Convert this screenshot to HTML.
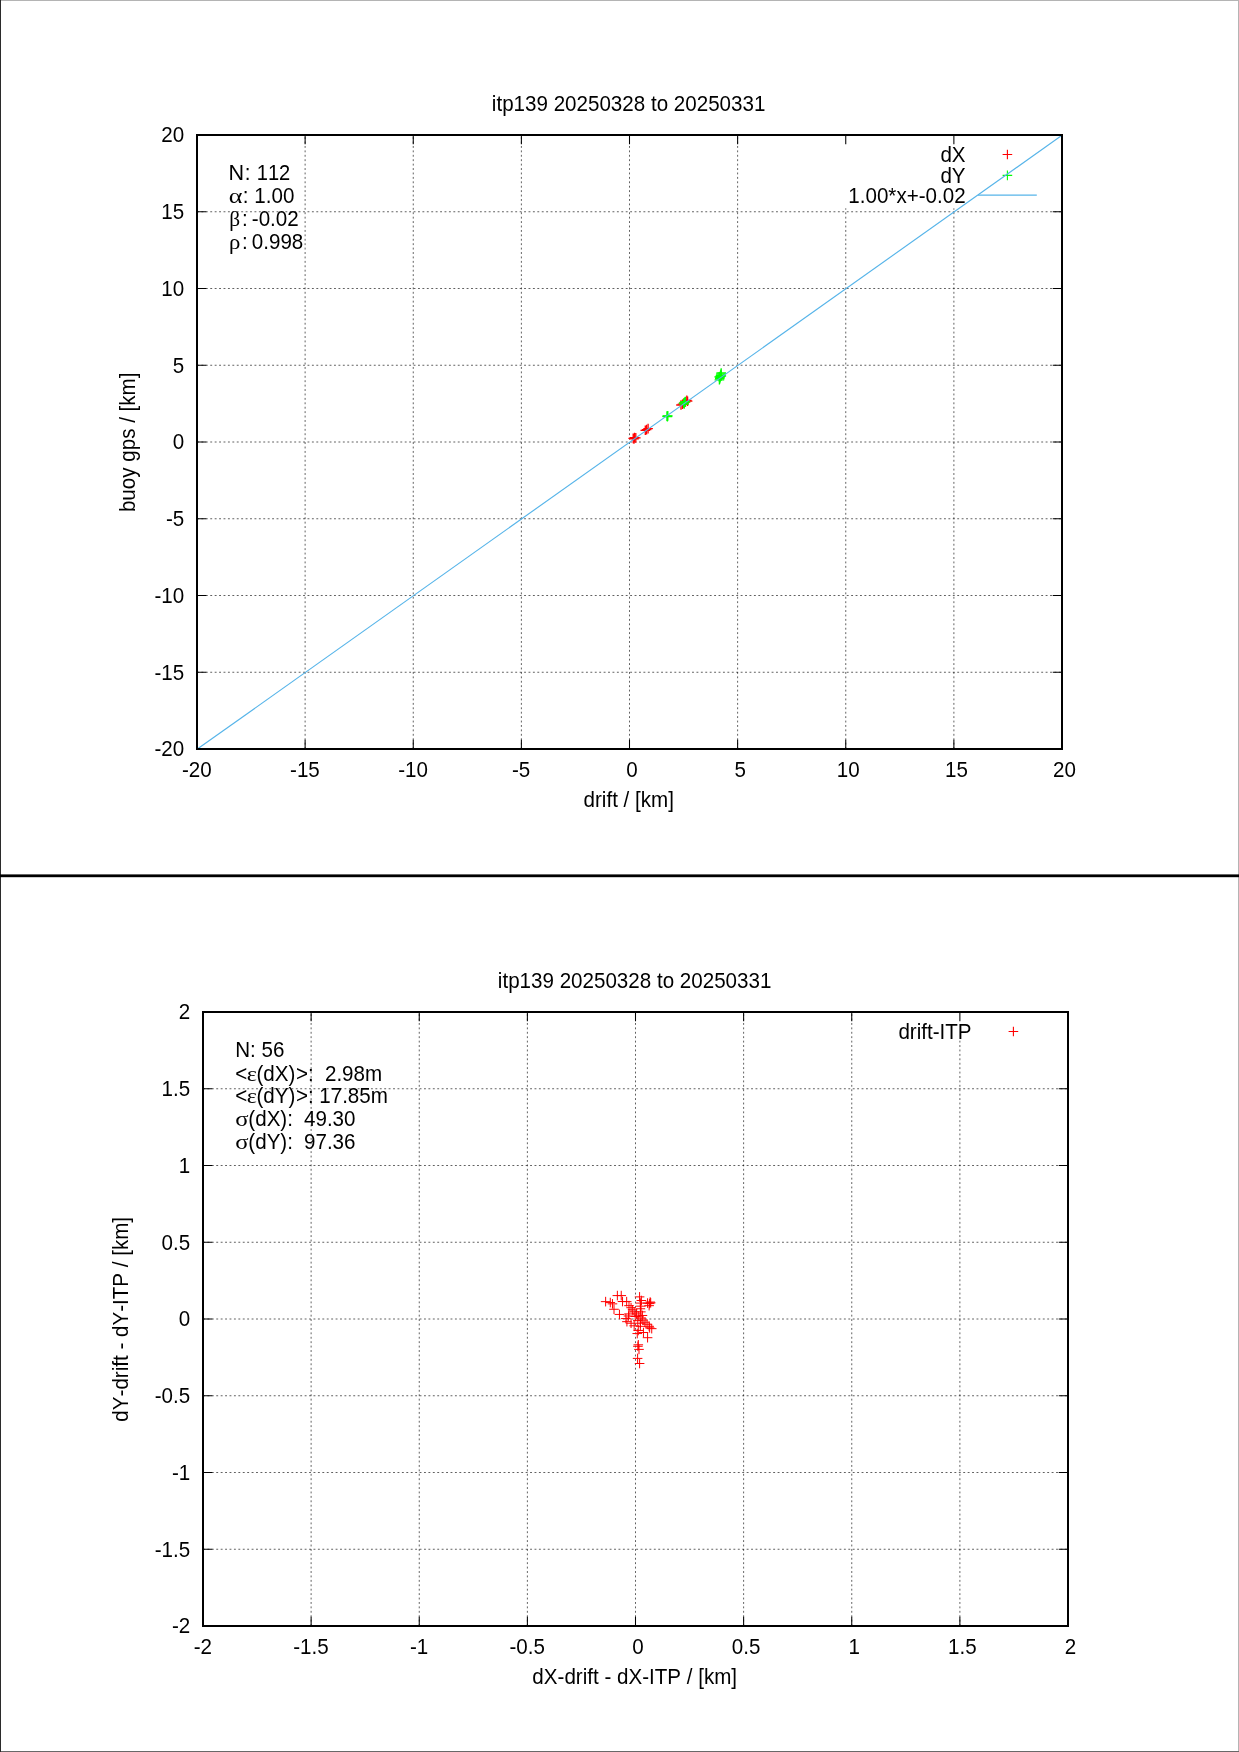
<!DOCTYPE html>
<html><head><meta charset="utf-8"><title>itp139 drift</title>
<style>
html,body{margin:0;padding:0;background:#fff;}
body{width:1239px;height:1752px;overflow:hidden;position:relative;}
svg{position:absolute;left:0;top:0;display:block;will-change:transform;}
text{font-family:"Liberation Sans",sans-serif;font-size:20.6px;fill:#000;white-space:pre;font-kerning:none;}
.sy{font-family:"Liberation Serif",serif;}
</style></head><body>
<svg width="1239" height="1752" viewBox="0 0 1239 1752" xml:space="preserve">
<rect x="0" y="0" width="1239" height="1752" fill="#fff"/>
<rect x="0" y="0" width="1239" height="1" fill="#b4b4b4"/>
<rect x="1238" y="0" width="1" height="1752" fill="#b4b4b4"/>
<rect x="0" y="1751" width="1239" height="1" fill="#686868"/>
<rect x="0" y="0" width="1" height="1752" fill="#2b2b2b"/>
<rect x="0" y="874.4" width="1239" height="2.8" fill="#000"/>
<path d="M305.12 749V135M413.25 749V135M521.38 749V135M629.5 749V135M737.62 749V135M845.75 749V208.3M953.88 749V208.3M197 672.25H1062M197 595.5H1062M197 518.75H1062M197 442H1062M197 365.25H1062M197 288.5H1062M197 211.75H1062" stroke="#000" stroke-opacity="0.62" stroke-width="1" stroke-dasharray="1.9 2.52" fill="none"/>
<path d="M305.12 749v-9.3M305.12 135v9.3M197 672.25h9.3M1062 672.25h-9.3M413.25 749v-9.3M413.25 135v9.3M197 595.5h9.3M1062 595.5h-9.3M521.38 749v-9.3M521.38 135v9.3M197 518.75h9.3M1062 518.75h-9.3M629.5 749v-9.3M629.5 135v9.3M197 442h9.3M1062 442h-9.3M737.62 749v-9.3M737.62 135v9.3M197 365.25h9.3M1062 365.25h-9.3M845.75 749v-9.3M845.75 135v9.3M197 288.5h9.3M1062 288.5h-9.3M953.88 749v-9.3M953.88 135v9.3M197 211.75h9.3M1062 211.75h-9.3" stroke="#000" stroke-width="1.05" fill="none"/>
<text transform="translate(965.6 161.9) scale(1 1.045)" text-anchor="end">dX</text>
<text transform="translate(965.6 182.7) scale(1 1.045)" text-anchor="end">dY</text>
<text transform="translate(965.6 203.3) scale(1 1.045)" text-anchor="end">1.00*x+-0.02</text>
<path d="M1002.6 154.5H1012.2M1007.4 149.7V159.3" stroke="#ff0000" stroke-width="1.1" fill="none"/>
<path d="M1002.6 175.4H1012.2M1007.4 170.6V180.2" stroke="#00ff00" stroke-width="1.1" fill="none"/>
<path d="M978 195.1H1036.8" stroke="#56b4e9" stroke-width="1.15" fill="none"/>
<path d="M628.4 438.4H638M633.2 433.6V443.2" stroke="#ff0000" stroke-width="1.3" fill="none"/>
<path d="M629.7 437.6H639.3M634.5 432.8V442.4" stroke="#ff0000" stroke-width="1.3" fill="none"/>
<path d="M631 437.9H640.6M635.8 433.1V442.7" stroke="#ff0000" stroke-width="1.3" fill="none"/>
<path d="M629.2 438.9H638.8M634 434.1V443.7" stroke="#ff0000" stroke-width="1.3" fill="none"/>
<path d="M640.5 430.3H650.1M645.3 425.5V435.1" stroke="#ff0000" stroke-width="1.3" fill="none"/>
<path d="M643.3 428.6H652.9M648.1 423.8V433.4" stroke="#ff0000" stroke-width="1.3" fill="none"/>
<path d="M641.8 429.6H651.4M646.6 424.8V434.4" stroke="#ff0000" stroke-width="1.3" fill="none"/>
<path d="M676.2 405H685.8M681 400.2V409.8" stroke="#ff0000" stroke-width="1.3" fill="none"/>
<path d="M677.7 404.2H687.3M682.5 399.4V409" stroke="#ff0000" stroke-width="1.3" fill="none"/>
<path d="M679.2 403H688.8M684 398.2V407.8" stroke="#ff0000" stroke-width="1.3" fill="none"/>
<path d="M682 400.3H691.6M686.8 395.5V405.1" stroke="#ff0000" stroke-width="1.3" fill="none"/>
<path d="M682.8 401.2H692.4M687.6 396.4V406" stroke="#ff0000" stroke-width="1.3" fill="none"/>
<path d="M680.7 402H690.3M685.5 397.2V406.8" stroke="#ff0000" stroke-width="1.3" fill="none"/>
<path d="M662.2 416.1H671.8M667 411.3V420.9" stroke="#00ff00" stroke-width="1.3" fill="none"/>
<path d="M663 415.9H672.6M667.8 411.1V420.7" stroke="#00ff00" stroke-width="1.3" fill="none"/>
<path d="M662.6 416.6H672.2M667.4 411.8V421.4" stroke="#00ff00" stroke-width="1.3" fill="none"/>
<path d="M678.8 403.2H688.4M683.6 398.4V408" stroke="#00ff00" stroke-width="1.3" fill="none"/>
<path d="M679.8 402.2H689.4M684.6 397.4V407" stroke="#00ff00" stroke-width="1.3" fill="none"/>
<path d="M680.6 401.6H690.2M685.4 396.8V406.4" stroke="#00ff00" stroke-width="1.3" fill="none"/>
<path d="M679.4 404H689M684.2 399.2V408.8" stroke="#00ff00" stroke-width="1.3" fill="none"/>
<path d="M714.6 379.8H724.2M719.4 375V384.6" stroke="#00ff00" stroke-width="1.3" fill="none"/>
<path d="M715 378.6H724.6M719.8 373.8V383.4" stroke="#00ff00" stroke-width="1.3" fill="none"/>
<path d="M715.2 377.4H724.8M720 372.6V382.2" stroke="#00ff00" stroke-width="1.3" fill="none"/>
<path d="M715.5 376.4H725.1M720.3 371.6V381.2" stroke="#00ff00" stroke-width="1.3" fill="none"/>
<path d="M715.8 375.4H725.4M720.6 370.6V380.2" stroke="#00ff00" stroke-width="1.3" fill="none"/>
<path d="M716.1 374.2H725.7M720.9 369.4V379" stroke="#00ff00" stroke-width="1.3" fill="none"/>
<path d="M716.4 373H726M721.2 368.2V377.8" stroke="#00ff00" stroke-width="1.3" fill="none"/>
<path d="M714.4 376.8H724M719.2 372V381.6" stroke="#00ff00" stroke-width="1.3" fill="none"/>
<path d="M716.5 376H726.1M721.3 371.2V380.8" stroke="#00ff00" stroke-width="1.3" fill="none"/>
<path d="M197 749.31L1062 135.31" stroke="#56b4e9" stroke-width="1.15" fill="none"/>
<rect x="197" y="135" width="865" height="614" fill="none" stroke="#000" stroke-width="2"/>
<text transform="translate(184.2 756.35) scale(1 1.045)" text-anchor="end">-20</text>
<text transform="translate(184.2 679.6) scale(1 1.045)" text-anchor="end">-15</text>
<text transform="translate(184.2 602.85) scale(1 1.045)" text-anchor="end">-10</text>
<text transform="translate(184.2 526.1) scale(1 1.045)" text-anchor="end">-5</text>
<text transform="translate(184.2 449.35) scale(1 1.045)" text-anchor="end">0</text>
<text transform="translate(184.2 372.6) scale(1 1.045)" text-anchor="end">5</text>
<text transform="translate(184.2 295.85) scale(1 1.045)" text-anchor="end">10</text>
<text transform="translate(184.2 219.1) scale(1 1.045)" text-anchor="end">15</text>
<text transform="translate(184.2 142.35) scale(1 1.045)" text-anchor="end">20</text>
<text transform="translate(196.8 777.3) scale(1 1.045)" text-anchor="middle">-20</text>
<text transform="translate(304.93 777.3) scale(1 1.045)" text-anchor="middle">-15</text>
<text transform="translate(413.05 777.3) scale(1 1.045)" text-anchor="middle">-10</text>
<text transform="translate(521.17 777.3) scale(1 1.045)" text-anchor="middle">-5</text>
<text transform="translate(632.05 777.3) scale(1 1.045)" text-anchor="middle">0</text>
<text transform="translate(740.17 777.3) scale(1 1.045)" text-anchor="middle">5</text>
<text transform="translate(848.3 777.3) scale(1 1.045)" text-anchor="middle">10</text>
<text transform="translate(956.42 777.3) scale(1 1.045)" text-anchor="middle">15</text>
<text transform="translate(1064.55 777.3) scale(1 1.045)" text-anchor="middle">20</text>
<text transform="translate(628.6 110.9) scale(1 1.045)" text-anchor="middle">itp139 20250328 to 20250331</text>
<text transform="translate(628.7 807.2) scale(1 1.045)" text-anchor="middle">drift / [km]</text>
<text transform="translate(134.6 442.3) rotate(-90) scale(1 1.045)" text-anchor="middle">buoy gps / [km]</text>
<text transform="translate(228.4 180.3) scale(1.05 1.045)">N</text>
<text transform="translate(244.7 180.3) scale(1 1.045)">:</text>
<text transform="translate(256.8 180.3) scale(0.975 1.045)">112</text>
<text transform="translate(228.8 203.15) scale(1.27 1.045)" class="sy">α</text>
<text transform="translate(242.8 203.15) scale(1 1.045)">:</text>
<text transform="translate(254.3 203.15) scale(1 1.045)">1.00</text>
<text transform="translate(229.2 226) scale(1.04 1.045)" class="sy">β</text>
<text transform="translate(241.9 226) scale(1 1.045)">:</text>
<text transform="translate(251.8 226) scale(1 1.045)">-0.02</text>
<text transform="translate(228.9 248.85) scale(1.1 1.045)" class="sy">ρ</text>
<text transform="translate(241.9 248.85) scale(1 1.045)">:</text>
<text transform="translate(251.8 248.85) scale(1 1.045)">0.998</text>
<path d="M311.12 1626V1012M419.25 1626V1012M527.38 1626V1012M635.5 1626V1012M743.62 1626V1012M851.75 1626V1012M959.88 1626V1040M203 1549.25H1068M203 1472.5H1068M203 1395.75H1068M203 1319H1068M203 1242.25H1068M203 1165.5H1068M203 1088.75H1068" stroke="#000" stroke-opacity="0.62" stroke-width="1" stroke-dasharray="1.9 2.52" fill="none"/>
<path d="M311.12 1626v-9.3M311.12 1012v9.3M203 1549.25h9.3M1068 1549.25h-9.3M419.25 1626v-9.3M419.25 1012v9.3M203 1472.5h9.3M1068 1472.5h-9.3M527.38 1626v-9.3M527.38 1012v9.3M203 1395.75h9.3M1068 1395.75h-9.3M635.5 1626v-9.3M635.5 1012v9.3M203 1319h9.3M1068 1319h-9.3M743.62 1626v-9.3M743.62 1012v9.3M203 1242.25h9.3M1068 1242.25h-9.3M851.75 1626v-9.3M851.75 1012v9.3M203 1165.5h9.3M1068 1165.5h-9.3M959.88 1626v-9.3M959.88 1012v9.3M203 1088.75h9.3M1068 1088.75h-9.3" stroke="#000" stroke-width="1.05" fill="none"/>
<text transform="translate(971.6 1038.9) scale(1 1.045)" text-anchor="end">drift-ITP</text>
<path d="M1008.6 1031.5H1018.2M1013.4 1026.7V1036.3" stroke="#ff0000" stroke-width="1.1" fill="none"/>
<path d="M600.84 1301.63H610.44M605.64 1296.83V1306.43" stroke="#ff0000" stroke-width="1.0" fill="none"/>
<path d="M605.49 1302.56H615.09M610.29 1297.76V1307.36" stroke="#ff0000" stroke-width="1.0" fill="none"/>
<path d="M607.66 1303.85H617.26M612.46 1299.05V1308.65" stroke="#ff0000" stroke-width="1.0" fill="none"/>
<path d="M609.21 1309.28H618.81M614.01 1304.48V1314.08" stroke="#ff0000" stroke-width="1.0" fill="none"/>
<path d="M612.57 1295.59H622.17M617.37 1290.79V1300.39" stroke="#ff0000" stroke-width="1.0" fill="none"/>
<path d="M616.44 1295.59H626.04M621.24 1290.79V1300.39" stroke="#ff0000" stroke-width="1.0" fill="none"/>
<path d="M617.74 1301.53H627.34M622.54 1296.73V1306.33" stroke="#ff0000" stroke-width="1.0" fill="none"/>
<path d="M621.87 1301.63H631.47M626.67 1296.83V1306.43" stroke="#ff0000" stroke-width="1.0" fill="none"/>
<path d="M614.64 1314.44H624.24M619.44 1309.64V1319.24" stroke="#ff0000" stroke-width="1.0" fill="none"/>
<path d="M624.19 1305.66H633.79M628.99 1300.86V1310.46" stroke="#ff0000" stroke-width="1.0" fill="none"/>
<path d="M626.26 1307.73H635.86M631.06 1302.93V1312.53" stroke="#ff0000" stroke-width="1.0" fill="none"/>
<path d="M627.81 1309.79H637.41M632.61 1304.99V1314.59" stroke="#ff0000" stroke-width="1.0" fill="none"/>
<path d="M629.36 1311.86H638.96M634.16 1307.06V1316.66" stroke="#ff0000" stroke-width="1.0" fill="none"/>
<path d="M631.68 1313.93H641.28M636.48 1309.13V1318.73" stroke="#ff0000" stroke-width="1.0" fill="none"/>
<path d="M634.01 1315.99H643.61M638.81 1311.19V1320.79" stroke="#ff0000" stroke-width="1.0" fill="none"/>
<path d="M636.07 1318.06H645.67M640.87 1313.26V1322.86" stroke="#ff0000" stroke-width="1.0" fill="none"/>
<path d="M638.14 1320.12H647.74M642.94 1315.32V1324.92" stroke="#ff0000" stroke-width="1.0" fill="none"/>
<path d="M640.2 1322.19H649.8M645 1317.39V1326.99" stroke="#ff0000" stroke-width="1.0" fill="none"/>
<path d="M642.27 1324.26H651.87M647.07 1319.46V1329.06" stroke="#ff0000" stroke-width="1.0" fill="none"/>
<path d="M644.34 1326.32H653.94M649.14 1321.52V1331.12" stroke="#ff0000" stroke-width="1.0" fill="none"/>
<path d="M646.92 1328.65H656.52M651.72 1323.85V1333.45" stroke="#ff0000" stroke-width="1.0" fill="none"/>
<path d="M644.85 1327.87H654.45M649.65 1323.07V1332.67" stroke="#ff0000" stroke-width="1.0" fill="none"/>
<path d="M634.78 1296.88H644.38M639.58 1292.08V1301.68" stroke="#ff0000" stroke-width="1.0" fill="none"/>
<path d="M636.59 1300.5H646.19M641.39 1295.7V1305.3" stroke="#ff0000" stroke-width="1.0" fill="none"/>
<path d="M635.56 1303.08H645.16M640.36 1298.28V1307.88" stroke="#ff0000" stroke-width="1.0" fill="none"/>
<path d="M636.07 1306.18H645.67M640.87 1301.38V1310.98" stroke="#ff0000" stroke-width="1.0" fill="none"/>
<path d="M635.56 1308.76H645.16M640.36 1303.96V1313.56" stroke="#ff0000" stroke-width="1.0" fill="none"/>
<path d="M636.07 1311.86H645.67M640.87 1307.06V1316.66" stroke="#ff0000" stroke-width="1.0" fill="none"/>
<path d="M635.56 1323.22H645.16M640.36 1318.42V1328.02" stroke="#ff0000" stroke-width="1.0" fill="none"/>
<path d="M635.56 1326.32H645.16M640.36 1321.52V1331.12" stroke="#ff0000" stroke-width="1.0" fill="none"/>
<path d="M632.46 1333.55H642.06M637.26 1328.75V1338.35" stroke="#ff0000" stroke-width="1.0" fill="none"/>
<path d="M633.49 1330.45H643.09M638.29 1325.65V1335.25" stroke="#ff0000" stroke-width="1.0" fill="none"/>
<path d="M642.79 1303.08H652.39M647.59 1298.28V1307.88" stroke="#ff0000" stroke-width="1.0" fill="none"/>
<path d="M644.85 1303.6H654.45M649.65 1298.8V1308.4" stroke="#ff0000" stroke-width="1.0" fill="none"/>
<path d="M645.89 1302.82H655.49M650.69 1298.02V1307.62" stroke="#ff0000" stroke-width="1.0" fill="none"/>
<path d="M644.34 1305.66H653.94M649.14 1300.86V1310.46" stroke="#ff0000" stroke-width="1.0" fill="none"/>
<path d="M645.37 1302.05H654.97M650.17 1297.25V1306.85" stroke="#ff0000" stroke-width="1.0" fill="none"/>
<path d="M621.09 1318.57H630.69M625.89 1313.77V1323.37" stroke="#ff0000" stroke-width="1.0" fill="none"/>
<path d="M623.68 1315.99H633.28M628.48 1311.19V1320.79" stroke="#ff0000" stroke-width="1.0" fill="none"/>
<path d="M622.13 1321.67H631.73M626.93 1316.87V1326.47" stroke="#ff0000" stroke-width="1.0" fill="none"/>
<path d="M626.26 1323.22H635.86M631.06 1318.42V1328.02" stroke="#ff0000" stroke-width="1.0" fill="none"/>
<path d="M629.36 1325.81H638.96M634.16 1321.01V1330.61" stroke="#ff0000" stroke-width="1.0" fill="none"/>
<path d="M624.19 1313.93H633.79M628.99 1309.13V1318.73" stroke="#ff0000" stroke-width="1.0" fill="none"/>
<path d="M642.79 1337.69H652.39M647.59 1332.89V1342.49" stroke="#ff0000" stroke-width="1.0" fill="none"/>
<path d="M638.65 1332.52H648.25M643.45 1327.72V1337.32" stroke="#ff0000" stroke-width="1.0" fill="none"/>
<path d="M630.39 1316.51H639.99M635.19 1311.71V1321.31" stroke="#ff0000" stroke-width="1.0" fill="none"/>
<path d="M637.62 1315.48H647.22M642.42 1310.68V1320.28" stroke="#ff0000" stroke-width="1.0" fill="none"/>
<path d="M632.97 1320.64H642.57M637.77 1315.84V1325.44" stroke="#ff0000" stroke-width="1.0" fill="none"/>
<path d="M633.1 1346.3H642.7M637.9 1341.5V1351.1" stroke="#ff0000" stroke-width="1.0" fill="none"/>
<path d="M634.2 1349.4H643.8M639 1344.6V1354.2" stroke="#ff0000" stroke-width="1.0" fill="none"/>
<path d="M632.8 1358.4H642.4M637.6 1353.6V1363.2" stroke="#ff0000" stroke-width="1.0" fill="none"/>
<path d="M634.8 1363.5H644.4M639.6 1358.7V1368.3" stroke="#ff0000" stroke-width="1.0" fill="none"/>
<path d="M633.5 1344.8H643.1M638.3 1340V1349.6" stroke="#ff0000" stroke-width="1.0" fill="none"/>
<rect x="203" y="1012" width="865" height="614" fill="none" stroke="#000" stroke-width="2"/>
<text transform="translate(190.2 1633.35) scale(1 1.045)" text-anchor="end">-2</text>
<text transform="translate(190.2 1556.6) scale(1 1.045)" text-anchor="end">-1.5</text>
<text transform="translate(190.2 1479.85) scale(1 1.045)" text-anchor="end">-1</text>
<text transform="translate(190.2 1403.1) scale(1 1.045)" text-anchor="end">-0.5</text>
<text transform="translate(190.2 1326.35) scale(1 1.045)" text-anchor="end">0</text>
<text transform="translate(190.2 1249.6) scale(1 1.045)" text-anchor="end">0.5</text>
<text transform="translate(190.2 1172.85) scale(1 1.045)" text-anchor="end">1</text>
<text transform="translate(190.2 1096.1) scale(1 1.045)" text-anchor="end">1.5</text>
<text transform="translate(190.2 1019.35) scale(1 1.045)" text-anchor="end">2</text>
<text transform="translate(202.8 1654.3) scale(1 1.045)" text-anchor="middle">-2</text>
<text transform="translate(310.93 1654.3) scale(1 1.045)" text-anchor="middle">-1.5</text>
<text transform="translate(419.05 1654.3) scale(1 1.045)" text-anchor="middle">-1</text>
<text transform="translate(527.17 1654.3) scale(1 1.045)" text-anchor="middle">-0.5</text>
<text transform="translate(638.05 1654.3) scale(1 1.045)" text-anchor="middle">0</text>
<text transform="translate(746.17 1654.3) scale(1 1.045)" text-anchor="middle">0.5</text>
<text transform="translate(854.3 1654.3) scale(1 1.045)" text-anchor="middle">1</text>
<text transform="translate(962.42 1654.3) scale(1 1.045)" text-anchor="middle">1.5</text>
<text transform="translate(1070.55 1654.3) scale(1 1.045)" text-anchor="middle">2</text>
<text transform="translate(634.6 987.9) scale(1 1.045)" text-anchor="middle">itp139 20250328 to 20250331</text>
<text transform="translate(634.7 1684.2) scale(1 1.045)" text-anchor="middle">dX-drift - dX-ITP / [km]</text>
<text transform="translate(127.9 1319.3) rotate(-90) scale(1 1.045)" text-anchor="middle">dY-drift - dY-ITP / [km]</text>
<text transform="translate(235.2 1057.3) scale(1 1.045)">N: 56</text>
<text transform="translate(235.2 1080.5) scale(1 1.045)">&lt;</text>
<text transform="translate(246.83 1080.5) scale(1.17 1.045)" class="sy">ε</text>
<text transform="translate(256.45 1080.5) scale(1 1.045)">(dX)</text>
<text transform="translate(295.97 1080.5) scale(1 1.045)">&gt;:</text>
<text transform="translate(313.52 1080.5) scale(1 1.045)">  2.98m</text>
<text transform="translate(235.2 1103.4) scale(1 1.045)">&lt;</text>
<text transform="translate(246.83 1103.4) scale(1.17 1.045)" class="sy">ε</text>
<text transform="translate(256.45 1103.4) scale(1 1.045)">(dY)</text>
<text transform="translate(295.97 1103.4) scale(1 1.045)">&gt;:</text>
<text transform="translate(313.52 1103.4) scale(1 1.045)"> 17.85m</text>
<text transform="translate(235.2 1126) scale(1.2 1.045)" class="sy">σ</text>
<text transform="translate(248.33 1126) scale(1 1.045)">(dX):</text>
<text transform="translate(292.56 1126) scale(1 1.045)">  49.30</text>
<text transform="translate(235.2 1148.9) scale(1.2 1.045)" class="sy">σ</text>
<text transform="translate(248.33 1148.9) scale(1 1.045)">(dY):</text>
<text transform="translate(292.56 1148.9) scale(1 1.045)">  97.36</text>
</svg>
</body></html>
